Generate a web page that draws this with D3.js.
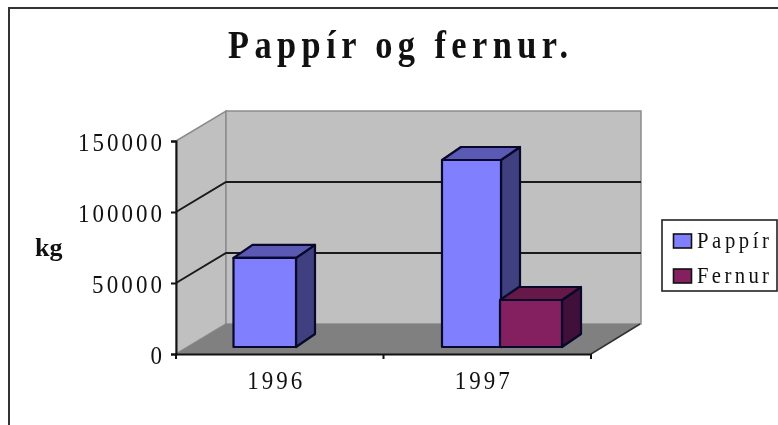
<!DOCTYPE html>
<html><head><meta charset="utf-8">
<script src="https://cdn.jsdelivr.net/npm/d3@7/dist/d3.min.js"></script>
<style>
html,body{margin:0;padding:0;background:#fff;overflow:hidden}
svg{display:block;filter:blur(0.45px)}
text{font-family:"Liberation Serif",serif;fill:#111}
.axis path,.axis line{stroke:#111;stroke-width:2px}
</style></head><body>
<svg id="c" width="778" height="425"></svg>
<script>
const years = ["1996","1997"];
const seriesNames = ["Pappír","Fernur"];
const pappir = [62700,131700];
const fernur = [null,33100];
const yTicks = [0,50000,100000,150000];
const titleText = "Pappír og fernur.";
const yTitle = "kg";
const frontFill = ["#8080ff","#842060"];
const sideFill = ["#404080","#40103a"];
const topFill = ["#5a5ab4","#661848"];

const svg = d3.select("#c");
const L=176,R=591,B=354,T=141,DX=50,DY=-30,BDX=19,BDY=-13;
const x = d3.scaleBand().domain(years).range([L,R]);
const xs = d3.scaleBand().domain(seriesNames).range([0,121]);
const y = d3.scaleLinear().domain([0,150000]).range([B,T]);
const barShiftX = 57.5, barShiftY = -7;
const SX = 0.92;

// frame
svg.append("path").attr("d","M9,425V8H778").attr("fill","none").attr("stroke","#333").attr("stroke-width",2);

// walls
const poly=(pts,fill,stroke,sw)=>svg.append("polygon").attr("points",pts.map(p=>p.join(",")).join(" ")).attr("fill",fill).attr("stroke",stroke||"none").attr("stroke-width",sw||1);
poly([[L,y(150000)],[L+DX,y(150000)+DY],[L+DX,B+DY],[L,B]],"#c0c0c0","#8c8c8c",1.5);
poly([[L+DX,y(150000)+DY],[R+DX,y(150000)+DY],[R+DX,B+DY],[L+DX,B+DY]],"#c0c0c0","#8c8c8c",1.5);
poly([[L,B],[L+DX,B+DY],[R+DX-1,B+DY],[R,B]],"#808080");
svg.append("line").attr("x1",R).attr("y1",B).attr("x2",R+DX-1).attr("y2",B+DY).attr("stroke","#333").attr("stroke-width",1.5);

// gridlines
yTicks.filter(v=>v>0&&v<150000).forEach(v=>{
  svg.append("path").attr("d",`M${L},${y(v)}L${L+DX},${y(v)+DY}H${R+DX}`).attr("fill","none").attr("stroke","#1a1a1a").attr("stroke-width",2);
});

// axes
const ax = svg.append("g").attr("class","axis").attr("transform",`translate(${L},0)`)
  .call(d3.axisLeft(y).tickValues(yTicks).tickFormat(d3.format("d")).tickSize(5).tickPadding(9));
ax.selectAll("text").attr("font-size",25).attr("dy",null).attr("x",0).attr("y",0)
  .attr("transform",`translate(-14,9) scale(${SX},1)`)
  .attr("textLength",function(d){return String(d).length*14/SX}).attr("lengthAdjust","spacing");
const bx = svg.append("g").attr("class","axis").attr("transform",`translate(0,${B})`)
  .call(d3.axisBottom(x).tickSize(0).tickFormat(d=>d));
bx.selectAll("text").attr("font-size",25).attr("dy",null).attr("x",0).attr("y",0)
  .attr("transform",`translate(-5,35) scale(${SX},1)`)
  .attr("textLength",55/SX).attr("lengthAdjust","spacing");
bx.selectAll(".edge").data([L,x("1997"),R]).enter().append("line").attr("class","edge").attr("x1",d=>d).attr("x2",d=>d).attr("y1",0).attr("y2",5);

// bars
[pappir,fernur].forEach((vals,si)=>{
  years.forEach((yr,i)=>{
    const v=vals[i]; if(v==null) return;
    const nudge = i===0 ? 0 : (si===0 ? 1 : -1.5);
    const x0=x(yr)+barShiftX+nudge+xs(seriesNames[si]);
    const w=xs.bandwidth()+(i===0?2:(si===0?-1.5:1.5));
    const yb=B+barShiftY, yt=y(v)+barShiftY;
    const g=svg.append("g").attr("stroke","#08082a").attr("stroke-width",2.2).attr("stroke-linejoin","round");
    g.append("polygon").attr("fill",sideFill[si]).attr("points",`${x0+w},${yt} ${x0+w+BDX},${yt+BDY} ${x0+w+BDX},${yb+BDY} ${x0+w},${yb}`);
    g.append("polygon").attr("fill",topFill[si]).attr("points",`${x0},${yt} ${x0+BDX},${yt+BDY} ${x0+w+BDX},${yt+BDY} ${x0+w},${yt}`);
    g.append("rect").attr("fill",frontFill[si]).attr("x",x0).attr("y",yt).attr("width",w).attr("height",yb-yt);
  });
});

// title
svg.append("text").attr("transform","translate(228,58) scale(0.86,1)").attr("font-size",40).attr("font-weight","bold")
  .attr("textLength",340/0.86).attr("lengthAdjust","spacing").text(titleText);
svg.append("text").attr("x",35).attr("y",256).attr("font-size",26).attr("font-weight","bold").text(yTitle);

// legend
svg.append("rect").attr("x",662).attr("y",220).attr("width",115).attr("height",71).attr("fill","#fff").attr("stroke","#222").attr("stroke-width",1.6);
seriesNames.forEach((n,i)=>{
  const ty=[248,283][i];
  svg.append("rect").attr("x",673.5).attr("y",ty-14).attr("width",18).attr("height",14).attr("fill",frontFill[i]).attr("stroke","#111").attr("stroke-width",1.6);
  svg.append("text").attr("transform",`translate(697,${ty}) scale(0.9,1)`).attr("font-size",23).attr("textLength",72/0.9).attr("lengthAdjust","spacing").text(n);
});
</script>
</body></html>
